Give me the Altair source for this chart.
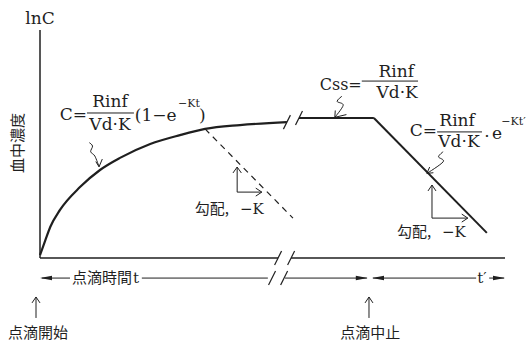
import altair as alt
import pandas as pd

INK = "#1f1f1f"
SERIF = "DejaVu Serif"
CJK = "Noto Sans CJK JP"

# Diagram coordinates: time t on x (0-100), lnC on y (0-100)

# Rise of concentration during infusion
rise_t = [0.0, 1.1, 2.2, 4.3, 8.6, 12.9, 17.2, 23.7, 30.1, 35.5, 43.0, 53.1]
rise_c = [1.3, 7.5, 13.6, 21.1, 31.1, 38.6, 43.9, 50.0, 53.9, 56.6, 58.3, 59.6]

# Steady state plateau (after the axis break)
plateau_t = [55.7, 71.8]
plateau_c = [61.4, 61.4]

# Elimination after the infusion stops
decay_t = [71.8, 96.1]
decay_c = [61.4, 11.0]

# Extrapolated elimination slope from the rising curve (dashed)
extrap_t = [35.5, 54.4]
extrap_c = [56.6, 17.5]

# Squiggly pointers from the formulas to the curve
ptr1_t = [10.6, 11.3, 10.9, 11.8, 12.7]
ptr1_c = [50.6, 49.1, 46.6, 44.7, 40.0]
ptr2_t = [64.9, 63.9, 65.2, 63.4]
ptr2_c = [70.9, 68.7, 67.0, 61.7]
ptr3_t = [86.7, 85.7, 86.7, 83.2]
ptr3_c = [46.6, 44.4, 42.2, 37.1]

# Axes (x axis broken between the two pieces)
axis_segments = [
    (0.0, 0.0, 0.0, 100.0),
    (0.0, 0.0, 51.2, 0.0),
    (54.0, 0.0, 100.0, 0.0),
]

# Thin annotation strokes: pointer heads, slope triangles, up arrows
thin_segments = [
    # pointer heads
    (13.4, 43.4, 12.7, 40.0), (12.0, 42.3, 12.7, 40.0),
    (65.9, 62.9, 63.4, 61.7), (63.5, 64.7, 63.4, 61.7),
    (84.6, 37.4, 83.2, 37.1), (83.8, 39.9, 83.2, 37.1),
    # slope triangle on the dashed line
    (42.4, 28.9, 42.4, 39.9), (42.4, 28.9, 47.7, 28.9),
    (41.5, 37.3, 42.4, 39.9), (43.3, 37.3, 42.4, 39.9),
    (46.4, 30.65, 47.7, 28.9), (46.4, 27.15, 47.7, 28.9),
    # slope triangle on the elimination line
    (84.3, 17.5, 84.3, 32.0), (84.3, 17.5, 92.0, 17.5),
    (83.44, 29.4, 84.3, 32.0), (85.16, 29.4, 84.3, 32.0),
    (90.7, 19.25, 92.0, 17.5), (90.7, 15.75, 92.0, 17.5),
    # infusion start / stop arrows
    (-0.86, -26.3, -0.86, -17.1), (-1.72, -19.7, -0.86, -17.1), (0.0, -19.7, -0.86, -17.1),
    (70.75, -26.3, 70.75, -17.1), (69.9, -19.7, 70.75, -17.1), (71.6, -19.7, 70.75, -17.1),
]

# Time span line under the axis
span_y = -8.8
span_pieces = [(0.4, 6.45), (21.9, 49.0), (52.7, 70.3), (71.6, 93.8), (96.6, 99.8)]
span_heads_left = [0.0, 71.4]
span_heads_right = [70.5, 100.0]

# Break marks (centers)
break_marks = [(53.1, 59.6), (55.7, 61.4), (51.2, 0.0), (54.0, 0.0), (49.9, span_y), (52.5, span_y)]

# Fraction bars
frac_bars = [(10.1, 63.6, 20.2, 63.6), (69.2, 77.6, 81.3, 77.6), (85.4, 55.3, 95.05, 55.3)]

# Text pieces: (x, y, text, font size)
serif_center = [
    (0.0, 104.8, "lnC", 17),
    (15.05, 68.4, "Rinf", 17), (15.05, 58.3, "Vd·K", 17),
    (76.6, 81.6, "Rinf", 17), (76.8, 72.4, "Vd·K", 17),
    (89.7, 60.1, "Rinf", 17), (90.1, 50.9, "Vd·K", 17),
    (96.1, 53.1, "·", 17),
    (95.05, span_y, "t′", 15),
]
serif_left = [
    (20.4, 62.3, "(1−e", 17), (29.7, 67.6, "−Kt", 11), (34.2, 62.3, ")", 17),
    (97.2, 54.4, "e", 17), (99.2, 59.7, "−Kt′", 11),
    (20.0, span_y, "t", 15),
    (43.0, 21.3, "−K", 15),
    (86.45, 11.2, "−K", 15),
]
serif_right = [
    (10.1, 62.7, "C=", 17),
    (69.2, 75.9, "Css=", 16),
    (85.4, 55.7, "C=", 17),
]
cjk_center = [
    (-0.43, -32.9, "点滴開始", 15),
    (71.0, -32.9, "点滴中止", 15),
]
cjk_left = [
    (6.9, span_y, "点滴時間", 15),
    (33.3, 21.5, "勾配,", 15),
    (76.8, 11.4, "勾配,", 15),
]
y_title = [(-4.73, 50.4, "血中濃度", 15)]

xs = alt.Scale(domain=[0, 100], nice=False, zero=False)
ys = alt.Scale(domain=[0, 100], nice=False, zero=False)
X = alt.X("x:Q", scale=xs, axis=None)
Y = alt.Y("y:Q", scale=ys, axis=None)


def path_frame(paths):
    rows = []
    for pid, (ts, cs) in enumerate(paths):
        for o, (t, c) in enumerate(zip(ts, cs)):
            rows.append({"id": pid, "o": o, "x": t, "y": c})
    return pd.DataFrame(rows)


def seg_frame(segs):
    return pd.DataFrame(segs, columns=["x", "y", "x2", "y2"])


def text_frame(items):
    return pd.DataFrame(items, columns=["x", "y", "label", "s"])


def rules(segs, width, dash=None):
    kw = dict(color=INK, strokeWidth=width, strokeCap="butt")
    if dash:
        kw["strokeDash"] = dash
    return alt.Chart(seg_frame(segs)).mark_rule(**kw).encode(x=X, y=Y, x2="x2:Q", y2="y2:Q")


def texts(items, font, align, angle=0):
    kw = dict(font=font, align=align, baseline="middle", color=INK)
    if angle:
        kw["angle"] = angle
    return alt.Chart(text_frame(items)).mark_text(**kw).encode(
        x=X, y=Y, text="label:N", size=alt.Size("s:Q", scale=None)
    )


curve = alt.Chart(path_frame([(rise_t, rise_c)])).mark_line(
    color=INK, strokeWidth=2.2, interpolate="monotone"
).encode(x=X, y=Y, order="o:Q")

straight = alt.Chart(path_frame([(plateau_t, plateau_c), (decay_t, decay_c)])).mark_line(
    color=INK, strokeWidth=2.0, strokeJoin="miter"
).encode(x=X, y=Y, detail="id:N", order="o:Q")

dashed = rules([(extrap_t[0], extrap_c[0], extrap_t[1], extrap_c[1])], 1.2, dash=[6, 5])

pointers = alt.Chart(
    path_frame([(ptr1_t, ptr1_c), (ptr2_t, ptr2_c), (ptr3_t, ptr3_c)])
).mark_line(color=INK, strokeWidth=1.0, interpolate="cardinal").encode(
    x=X, y=Y, detail="id:N", order="o:Q"
)

# break slashes: short strokes through each center
slash_dx, slash_dy = 0.75, 3.07
slashes = rules(
    [(cx - slash_dx, cy - slash_dy, cx + slash_dx, cy + slash_dy) for cx, cy in break_marks], 1.2
)

span = rules([(a, span_y, b, span_y) for a, b in span_pieces], 1.0)
heads_l = alt.Chart(pd.DataFrame({"x": span_heads_left, "y": [span_y] * len(span_heads_left)})).mark_point(
    shape="M0,0L2,-0.38L2,0.38Z", size=144, filled=True, color=INK, opacity=1
).encode(x=X, y=Y)
heads_r = alt.Chart(pd.DataFrame({"x": span_heads_right, "y": [span_y] * len(span_heads_right)})).mark_point(
    shape="M0,0L-2,-0.38L-2,0.38Z", size=144, filled=True, color=INK, opacity=1
).encode(x=X, y=Y)

chart = alt.layer(
    rules(axis_segments, 1.5),
    curve,
    straight,
    dashed,
    pointers,
    rules(thin_segments, 1.0),
    slashes,
    span,
    heads_l,
    heads_r,
    rules(frac_bars, 1.0),
    texts(serif_center, SERIF, "center"),
    texts(serif_left, SERIF, "left"),
    texts(serif_right, SERIF, "right"),
    texts(cjk_center, CJK, "center"),
    texts(cjk_left, CJK, "left"),
    texts(y_title, CJK, "center", angle=270),
).properties(
    width=465,
    height=228,
    padding={"left": 40, "top": 30, "right": 27, "bottom": 84},
    autosize=alt.AutoSizeParams(type="none"),
    background="white",
).configure_view(stroke=None)

chart.save("out.html", embed_options={"renderer": "svg", "actions": False})
